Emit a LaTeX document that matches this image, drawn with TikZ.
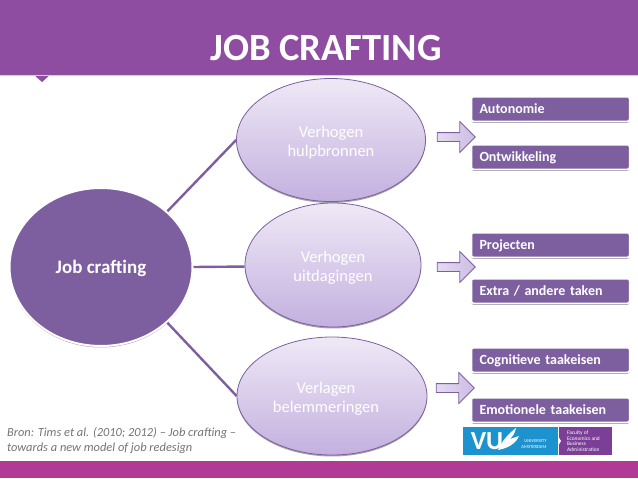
\documentclass[tikz,border=0pt]{standalone}
\usepackage{fontspec}
\setmainfont{Carlito}
\usetikzlibrary{shapes.geometric, shapes.arrows, shadows, positioning}
\definecolor{headpurple}{HTML}{8E4DA1}
\definecolor{footpurple}{HTML}{B03A94}
\definecolor{boxpurple}{HTML}{7D5F9F}
\definecolor{ovaltop}{HTML}{EFE9F6}
\definecolor{ovalbot}{HTML}{C3B0DF}
\definecolor{vublue}{HTML}{1C93CF}
\definecolor{vupurple}{HTML}{7B3F98}
\tikzset{
  softshadow/.style={drop shadow={shadow xshift=0pt, shadow yshift=-1.5pt, opacity=0.35, fill=black}},
  oval/.style={ellipse, draw=boxpurple, line width=0.8pt, inner sep=0pt, top color=ovaltop, bottom color=ovalbot, text=white, align=center, font=\fontsize{16.5}{19}\selectfont, softshadow},
  taskbox/.style={rectangle, rounded corners=2pt, draw=white, line width=1.5pt, fill=boxpurple, text=white, minimum width=158pt, minimum height=24.5pt, text width=142pt, text height=10pt, text depth=1pt, inner xsep=8pt, inner ysep=0pt, align=left, font=\fontsize{14}{16}\bfseries\selectfont, softshadow},
  linkline/.style={draw=boxpurple, line width=2.4pt},
  blockarrow/.style={single arrow, draw=boxpurple, line width=0.8pt, left color=ovalbot!45!white, right color=ovalbot!85!white, minimum width=30pt, minimum height=38pt, single arrow head extend=11pt, single arrow tip angle=90, inner xsep=0pt, inner ysep=4pt},
}
\newcommand{\ovalstrut}{\rule{0pt}{16pt}}
\begin{document}
\begin{tikzpicture}[x=1pt,y=-1pt]
\useasboundingbox (0,0) rectangle (638,479);
% header and footer
\fill [headpurple] (33,74) -- (42,82) -- (51,74) -- cycle;
\fill [headpurple] (0,0) rectangle (638,75);
\fill [black!18] (0,75) rectangle (638,76);
\fill [footpurple] (0,461) rectangle (638,478);
\node (title) at (326,48) [text=white, font=\fontsize{38.5}{42}\bfseries\selectfont] {JOB CRAFTING};
% ovals
\node (jobcrafting) at (101,267) [oval, draw=white, line width=2pt, top color=boxpurple, bottom color=boxpurple, minimum width=183pt, minimum height=158pt, font=\fontsize{19}{22}\bfseries\selectfont] {\ovalstrut Job crafting};
\node (hulpbronnen) at (331,140) [oval, minimum width=189pt, minimum height=123pt] {\ovalstrut Verhogen\\hulpbronnen};
\node (uitdagingen) at (333,265) [oval, minimum width=176pt, minimum height=124pt] {\ovalstrut Verhogen\\uitdagingen};
\node (belemmeringen) at (332,396) [oval, minimum width=190pt, minimum height=118pt] {\ovalstrut Verlagen\kern12pt\\belemmeringen\kern12pt};
\draw [linkline] (jobcrafting.40) -- (hulpbronnen.west);
\draw [linkline] (jobcrafting.east) -- (uitdagingen.181);
\draw [linkline] (jobcrafting.-40) -- (belemmeringen.west);
% arrows
\node (arrowa) at (454,137) [blockarrow] {};
\node (arrowb) at (454,267) [blockarrow] {};
\node (arrowc) at (453,388) [blockarrow] {};
% task boxes
\node (autonomie) at (550.5,109) [taskbox] {Autonomie};
\node (ontwikkeling) at (550.5,157) [taskbox] {Ontwikkeling};
\node (projecten) at (550.5,245) [taskbox] {Projecten};
\node (extra) at (550.5,291) [taskbox] {Extra / andere taken};
\node (cognitieve) at (550.5,360) [taskbox] {Cognitieve taakeisen};
\node (emotionele) at (550.5,410) [taskbox] {Emotionele taakeisen};
% source
\node (bron) at (3.5,441) [anchor=west, align=left, text=black!55, font=\fontsize{12.4}{15}\itshape\selectfont] {Bron: Tims et al. (2010; 2012) -- Job crafting --\\towards a new model of job redesign};
% logo
\fill [vublue] (463,427) rectangle (558,455);
\fill [vupurple] (559,427) rectangle (612,455);
\fill [white] (558,436) -- (561,441) -- (558,446) -- cycle;
\fill [white] (498,450) .. controls (502,441) and (508,434) .. (516,428) .. controls (515,433) and (513,436) .. (510,439) .. controls (513,438) and (516,437) .. (519,436) .. controls (516,443) and (509,448) .. (498,450) -- cycle;
\node (vu) at (487,441) [text=white, font=\fontsize{26}{28}\bfseries\selectfont] {VU};
\node (vuname) at (534,444) [text=white, align=right, font=\fontsize{4.6}{6.5}\selectfont] {UNIVERSITY\\AMSTERDAM};
\node (faculty) at (563.5,441) [anchor=west, text=white, align=left, font=\fontsize{5.4}{5.7}\selectfont] {Faculty of\\Economics and\\Business\\Administration};
\end{tikzpicture}
\end{document}
